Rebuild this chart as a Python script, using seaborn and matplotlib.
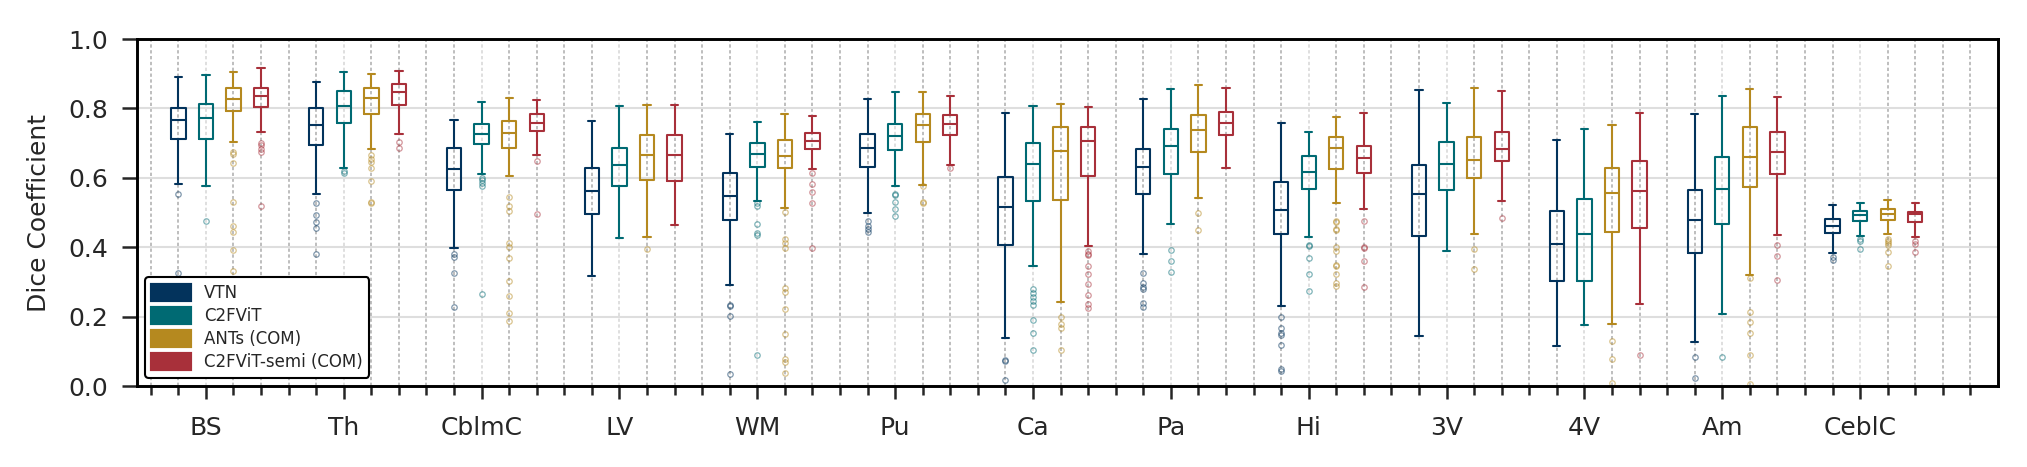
import numpy as np
import pandas as pd
import matplotlib
matplotlib.use("Agg")
import matplotlib.pyplot as plt
from matplotlib.patches import Patch
import seaborn as sns

sns.set_style("ticks")
plt.rcParams["font.family"] = ["DejaVu Sans"]
plt.rcParams["font.size"] = 6

regions = ["BS", "Th", "CblmC", "LV", "WM", "Pu", "Ca", "Pa", "Hi", "3V", "4V", "Am", "CeblC"]
methods = ["VTN", "C2FViT", "ANTs (COM)", "C2FViT-semi (COM)"]
colors = ["#03335C", "#006A73", "#B5891F", "#A8303A"]

# box summaries: (lower whisker, Q1, median, Q3, upper whisker)
vtn_stats = [
    (0.582, 0.711, 0.766, 0.800, 0.891), (0.554, 0.695, 0.751, 0.800, 0.875),
    (0.398, 0.565, 0.624, 0.687, 0.768), (0.318, 0.497, 0.563, 0.627, 0.763),
    (0.292, 0.478, 0.547, 0.615, 0.725), (0.500, 0.632, 0.687, 0.725, 0.826),
    (0.139, 0.407, 0.517, 0.603, 0.788), (0.381, 0.554, 0.632, 0.684, 0.826),
    (0.231, 0.439, 0.508, 0.589, 0.759), (0.144, 0.432, 0.554, 0.637, 0.852),
    (0.115, 0.303, 0.410, 0.505, 0.708), (0.127, 0.384, 0.479, 0.565, 0.785),
    (0.384, 0.442, 0.462, 0.482, 0.523),
]
vtn_fliers = [
    [0.554, 0.326], [0.526, 0.494, 0.474, 0.456, 0.381], [0.379, 0.373, 0.326, 0.228], [],
    [0.233, 0.230, 0.202, 0.035], [0.476, 0.462, 0.453, 0.445], [0.075, 0.072, 0.017],
    [0.326, 0.297, 0.285, 0.279, 0.240, 0.228], [0.199, 0.167, 0.153, 0.147, 0.118, 0.049, 0.043],
    [], [], [0.084, 0.023], [0.372, 0.364],
]

c2f_stats = [
    (0.577, 0.711, 0.771, 0.814, 0.896), (0.627, 0.759, 0.806, 0.849, 0.904),
    (0.610, 0.696, 0.725, 0.754, 0.818), (0.427, 0.577, 0.638, 0.687, 0.806),
    (0.533, 0.632, 0.670, 0.699, 0.761), (0.575, 0.680, 0.721, 0.756, 0.846),
    (0.346, 0.534, 0.641, 0.699, 0.808), (0.468, 0.612, 0.693, 0.742, 0.855),
    (0.428, 0.569, 0.618, 0.664, 0.731), (0.390, 0.566, 0.641, 0.704, 0.817),
    (0.176, 0.302, 0.438, 0.540, 0.742), (0.208, 0.467, 0.569, 0.661, 0.837),
    (0.431, 0.475, 0.493, 0.505, 0.528),
]
c2f_fliers = [
    [0.476, 0.290], [0.620, 0.614], [0.600, 0.593, 0.585, 0.576, 0.265], [],
    [0.526, 0.518, 0.467, 0.441, 0.435, 0.089], [0.554, 0.549, 0.531, 0.511, 0.491],
    [0.279, 0.268, 0.256, 0.244, 0.233, 0.190, 0.152, 0.104], [0.393, 0.361, 0.329],
    [0.407, 0.403, 0.370, 0.323, 0.274], [], [], [0.084], [0.423, 0.418, 0.395],
]

ants_stats = [
    (0.702, 0.792, 0.826, 0.860, 0.904), (0.684, 0.785, 0.829, 0.860, 0.898),
    (0.606, 0.687, 0.730, 0.765, 0.829), (0.430, 0.595, 0.667, 0.722, 0.810),
    (0.514, 0.627, 0.663, 0.708, 0.785), (0.580, 0.702, 0.751, 0.785, 0.846),
    (0.243, 0.537, 0.676, 0.745, 0.814), (0.543, 0.673, 0.739, 0.782, 0.866),
    (0.526, 0.624, 0.687, 0.719, 0.774), (0.439, 0.598, 0.650, 0.719, 0.858),
    (0.179, 0.445, 0.557, 0.627, 0.751), (0.320, 0.574, 0.660, 0.745, 0.855),
    (0.439, 0.479, 0.497, 0.511, 0.537),
]
ants_fliers = [
    [0.675, 0.670, 0.644, 0.531, 0.462, 0.445, 0.393, 0.330, 0.230],
    [0.667, 0.655, 0.646, 0.629, 0.592, 0.531, 0.527],
    [0.546, 0.520, 0.503, 0.411, 0.400, 0.370, 0.303, 0.260, 0.209, 0.186],
    [0.396],
    [0.501, 0.424, 0.412, 0.398, 0.283, 0.271, 0.222, 0.150, 0.077, 0.068, 0.038],
    [0.575, 0.530, 0.527], [0.198, 0.180, 0.168, 0.104], [0.500, 0.449],
    [0.476, 0.473, 0.453, 0.450, 0.401, 0.390, 0.349, 0.346, 0.323, 0.297, 0.289],
    [0.396, 0.338], [0.130, 0.078, 0.008], [0.312, 0.213, 0.184, 0.153, 0.090, 0.006],
    [0.423, 0.418, 0.412, 0.406, 0.387, 0.346],
]

semi_stats = [
    (0.731, 0.805, 0.835, 0.859, 0.915), (0.725, 0.810, 0.847, 0.869, 0.907),
    (0.667, 0.736, 0.759, 0.785, 0.823), (0.465, 0.592, 0.667, 0.722, 0.810),
    (0.624, 0.684, 0.707, 0.728, 0.777), (0.638, 0.722, 0.754, 0.780, 0.837),
    (0.404, 0.606, 0.705, 0.745, 0.803), (0.627, 0.722, 0.757, 0.791, 0.858),
    (0.511, 0.615, 0.658, 0.693, 0.788), (0.534, 0.647, 0.684, 0.733, 0.849),
    (0.237, 0.456, 0.563, 0.647, 0.788), (0.435, 0.612, 0.673, 0.731, 0.832),
    (0.428, 0.472, 0.497, 0.502, 0.528),
]
semi_fliers = [
    [0.700, 0.694, 0.684, 0.673, 0.520], [0.704, 0.687], [0.647, 0.497], [],
    [0.615, 0.583, 0.560, 0.528, 0.398], [0.627],
    [0.389, 0.381, 0.377, 0.346, 0.323, 0.295, 0.263, 0.237, 0.225], [],
    [0.476, 0.401, 0.397, 0.361, 0.286], [0.485], [0.090], [0.406, 0.374, 0.305],
    [0.418, 0.410, 0.387],
]


def as_sample(stats, fliers, m=16):
    # smallest sample whose quartiles / whiskers / outliers equal the read values
    lo, q1, med, q3, hi = stats
    k = len(fliers)
    return (sorted(fliers) + [lo] + [q1] * (m - k) + [med] * m
            + [q3] * (2 * m - 1) + [hi])


rows = []
all_stats = [vtn_stats, c2f_stats, ants_stats, semi_stats]
all_fliers = [vtn_fliers, c2f_fliers, ants_fliers, semi_fliers]
for j, meth in enumerate(methods):
    for g, reg in enumerate(regions):
        for v in as_sample(all_stats[j][g], all_fliers[j][g]):
            rows.append({"pos": 5 * g + 1 + j, "method": meth, "dice": v})
df = pd.DataFrame(rows)

fig = plt.figure(figsize=(2027 / 300, 467 / 300), dpi=300)
ax = fig.add_axes([137 / 2027, 81 / 467, 1861 / 2027, 347 / 467])

sns.boxplot(data=df, x="pos", y="dice", hue="method", hue_order=methods,
            palette=colors, native_scale=True, fill=False, width=0.52,
            linewidth=0.5, fliersize=1.3,
            flierprops=dict(alpha=0.5, markeredgewidth=0.3),
            legend=False, ax=ax)

ax.set_xlim(-0.5, 67)
ax.set_ylim(0, 1)
ax.set_xticks([5 * g + 2 for g in range(len(regions))])
ax.set_xticklabels(regions)
ax.set_xticks([i for i in range(68) if i % 5 != 2], minor=True)
ax.tick_params(axis="x", which="major", length=3.2, width=0.6, pad=4)
ax.tick_params(axis="x", which="minor", length=2.1, width=0.6)
ax.tick_params(axis="y", length=3.5, width=0.6)
ax.set_yticks(np.arange(0, 1.01, 0.2))
ax.set_xlabel("")
ax.set_ylabel("Dice Coefficient", fontsize=6)

ax.grid(axis="x", which="minor", ls=(0, (2, 1.5)), lw=0.4, color="0.7")
ax.grid(axis="x", which="major", ls=(0, (2, 1.5)), lw=0.4, color="0.85")
ax.grid(axis="y", which="major", ls="-", lw=0.5, color="0.87")
ax.set_axisbelow(True)
for s in ax.spines.values():
    s.set_linewidth(0.7)
    s.set_color("black")

handles = [Patch(facecolor=c, edgecolor=c, label=m) for m, c in zip(methods, colors)]
leg = ax.legend(handles=handles, loc="lower left", fontsize=4, handlelength=2.3,
                handleheight=1.0, labelspacing=0.3, frameon=True, fancybox=True,
                framealpha=1, edgecolor="black")
leg.get_frame().set_linewidth(0.5)

fig.savefig("out.png", dpi=300)
